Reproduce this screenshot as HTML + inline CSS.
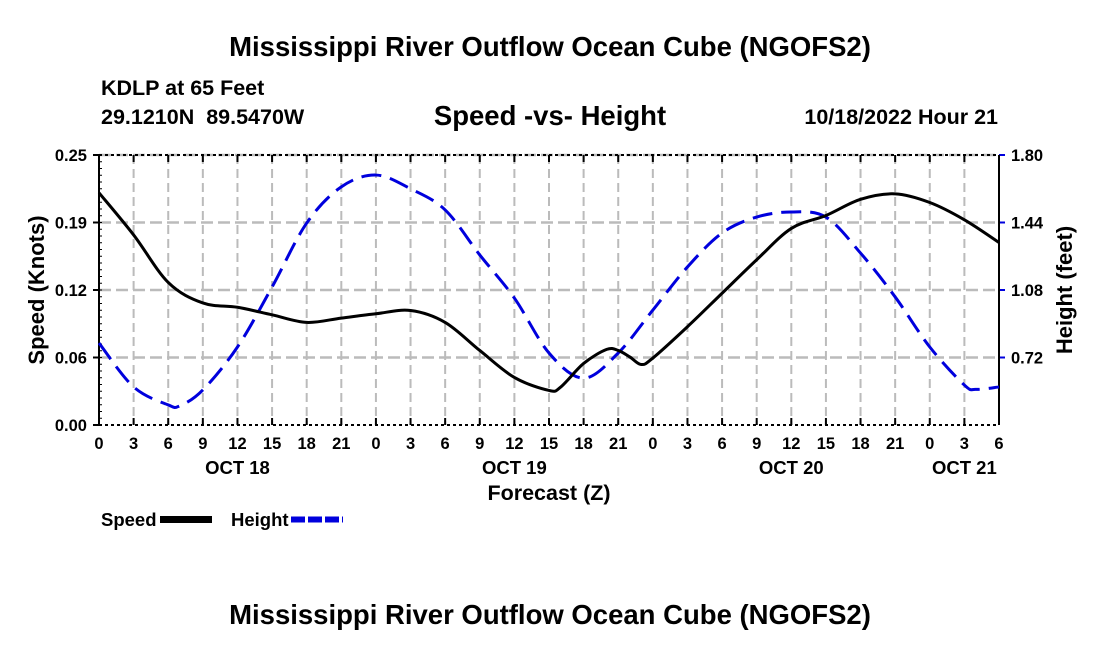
<!DOCTYPE html>
<html><head><meta charset="utf-8"><style>
body{margin:0;background:#fff;}
svg text{font-family:"Liberation Sans",Arial,sans-serif;font-weight:bold;fill:#000;}
</style></head><body>
<svg id="chart" width="1100" height="650" viewBox="0 0 1100 650" xmlns="http://www.w3.org/2000/svg">
<text x="550" y="56" font-size="27.5" text-anchor="middle">Mississippi River Outflow Ocean Cube (NGOFS2)</text>
<text x="101" y="95" font-size="21.5">KDLP at 65 Feet</text>
<text x="101" y="124" font-size="21.5" xml:space="preserve">29.1210N  89.5470W</text>
<text x="550" y="125" font-size="27.5" text-anchor="middle">Speed -vs- Height</text>
<text x="998" y="124" font-size="21.5" text-anchor="end">10/18/2022 Hour 21</text>
<text x="550" y="624" font-size="27.5" text-anchor="middle">Mississippi River Outflow Ocean Cube (NGOFS2)</text>
<text transform="translate(44,290) rotate(-90)" font-size="22" text-anchor="middle">Speed (Knots)</text>
<text transform="translate(1072,290) rotate(-90)" font-size="22" text-anchor="middle">Height (feet)</text>
<text x="549" y="500" font-size="21.5" text-anchor="middle">Forecast (Z)</text>
<g id="grid"></g><g id="axes"></g><g id="series"></g>
<g>
<text x="101" y="526" font-size="18.5">Speed</text>
<rect x="160" y="516" width="52" height="7" fill="#000"/>
<text x="231" y="526" font-size="18.5">Height</text>
<line x1="291" y1="519.5" x2="343" y2="519.5" stroke="#0000dd" stroke-width="6" stroke-dasharray="14,3"/>
</g>
</svg>
<script>
const hours=[0,3,6,9,12,15,18,21,24,27,30,33,36,39,40,42,44,45,46,47,48,51,54,57,60,63,66,69,72,75,78];
const speed=[0.215,0.176,0.132,0.113,0.109,0.102,0.095,0.099,0.103,0.106,0.095,0.069,0.044,0.032,0.035,0.057,0.070,0.069,0.063,0.056,0.062,0.091,0.122,0.153,0.182,0.194,0.209,0.214,0.206,0.190,0.169];
const hHours=[0,3,6,7,9,12,15,18,21,24,27,30,33,36,39,42,45,48,51,54,57,60,63,66,69,72,75,76,78];
const height=[0.797,0.563,0.467,0.462,0.547,0.776,1.096,1.437,1.63,1.693,1.62,1.507,1.267,1.037,0.744,0.61,0.744,0.973,1.203,1.384,1.469,1.496,1.469,1.277,1.043,0.776,0.573,0.55,0.563];
const xTickLabels=["0","3","6","9","12","15","18","21","0","3","6","9","12","15","18","21","0","3","6","9","12","15","18","21","0","3","6"];
const dateLabels=[["OCT 18",12],["OCT 19",36],["OCT 20",60],["OCT 21",75]];
const yTickLabels=["0.00","0.06","0.12","0.19","0.25"];
const y2TickLabels=["0.72","1.08","1.44","1.80"];
const X0=99,X1=999,Y0=425,Y1=155;
const xs=h=>X0+h/78*(X1-X0);
const ys=v=>Y0-v/0.25*(Y0-Y1);
const y2s=v=>Y0-(v-0.36)/1.44*(Y0-Y1);
const NS="http://www.w3.org/2000/svg";
function mk(tag,attrs,parent){const e=document.createElementNS(NS,tag);for(const k in attrs)e.setAttribute(k,attrs[k]);parent.appendChild(e);return e;}
const grid=document.getElementById('grid'),axes=document.getElementById('axes'),ser=document.getElementById('series');
xTickLabels.forEach((l,i)=>{const x=xs(i*3);
 if(i>0&&i<26){const g=mk('line',{x1:x,y1:Y1,x2:x,y2:Y0,stroke:'#bbb','stroke-width':2,'stroke-dasharray':'9,5'},grid);
 }
 const t=mk('line',{x1:x,y1:Y0,x2:x,y2:Y0-7,stroke:'#000','stroke-width':2},axes);
 
 const t2=mk('line',{x1:x,y1:Y1,x2:x,y2:Y1+7,stroke:'#000','stroke-width':2},axes);
 
 const tx=mk('text',{x:x,y:449,'font-size':16.5,'text-anchor':'middle'},axes);tx.textContent=l;
 });
dateLabels.forEach(d=>{const tx=mk('text',{x:xs(d[1]),y:474,'font-size':18.5,'text-anchor':'middle'},axes);tx.textContent=d[0];
 });
yTickLabels.forEach((l,i)=>{const y=ys(i*0.0625);
 if(i>0){const g=mk('line',{x1:X0,y1:y,x2:X1,y2:y,stroke:'#bbb','stroke-width':2.5,'stroke-dasharray':'12,5'},grid);
 }
 const t=mk('line',{x1:X0-6,y1:y,x2:X0,y2:y,stroke:'#000','stroke-width':2},axes);
 
 const tx=mk('text',{x:X0-12,y:y+6,'font-size':16.5,'text-anchor':'end'},axes);tx.textContent=l;
 });
for(let i=0;i<=40;i++){const y=ys(i*0.25/40);const m=mk('line',{x1:X0,y1:y,x2:X0+3,y2:y,stroke:'#000','stroke-width':1},axes);
 }
y2TickLabels.forEach(l=>{const v=parseFloat(l),y=y2s(v);
 const t=mk('line',{x1:X1,y1:y,x2:X1+6,y2:y,stroke:'#0000dd','stroke-width':2},axes);
 
 const tx=mk('text',{x:X1+12,y:y+6,'font-size':16.5},axes);tx.textContent=l;
 });
const topBorder=mk('line',{x1:X0,y1:Y1,x2:X1,y2:Y1,stroke:'#000','stroke-width':2,'stroke-dasharray':'3,3'},axes);

const botBorder=mk('line',{x1:X0,y1:Y0,x2:X1,y2:Y0,stroke:'#000','stroke-width':2,'stroke-dasharray':'3,3'},axes);

const leftAxis=mk('line',{x1:X0,y1:Y1,x2:X0,y2:Y0,stroke:'#000','stroke-width':2},axes);

const rightAxis=mk('line',{x1:X1,y1:Y1,x2:X1,y2:Y0,stroke:'#000','stroke-width':2},axes);

function smooth(pts){let d='M'+pts[0][0]+','+pts[0][1];
 for(let i=0;i<pts.length-1;i++){const p0=pts[Math.max(0,i-1)],p1=pts[i],p2=pts[i+1],p3=pts[Math.min(pts.length-1,i+2)];
  const c1=[p1[0]+(p2[0]-p0[0])/6,p1[1]+(p2[1]-p0[1])/6],c2=[p2[0]-(p3[0]-p1[0])/6,p2[1]-(p3[1]-p1[1])/6];
  d+=' C'+c1[0]+','+c1[1]+' '+c2[0]+','+c2[1]+' '+p2[0]+','+p2[1];}return d;}
const hp=mk('path',{d:smooth(hHours.map((h,i)=>[xs(h),y2s(height[i])])),fill:'none',stroke:'#0000dd','stroke-width':3,'stroke-dasharray':'20,9'},ser);

const sp=mk('path',{d:smooth(hours.map((h,i)=>[xs(h),ys(speed[i])])),fill:'none',stroke:'#000','stroke-width':3},ser);

</script>
</body></html>
